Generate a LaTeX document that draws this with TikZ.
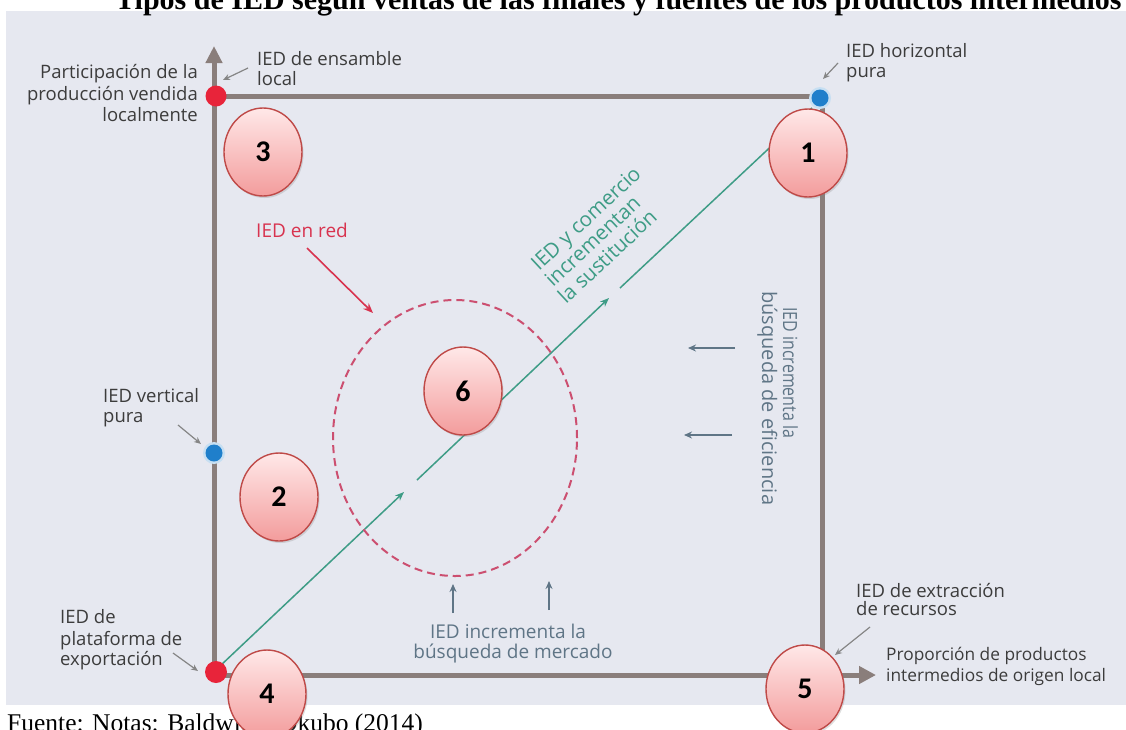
\documentclass[tikz,border=0pt]{standalone}
\usepackage{fontspec}
\setmainfont{Liberation Serif}
\newfontfamily\labfont{Open Sans}
\newfontfamily\labnarrow[FakeStretch=0.82]{Open Sans}
\newfontfamily\numfont{Carlito}
\usetikzlibrary{arrows.meta,shadows,shapes.geometric}
\definecolor{panel}{HTML}{E6E8F0}
\definecolor{axisc}{HTML}{8A7E7B}
\definecolor{labc}{HTML}{3C3C3C}
\definecolor{pointer}{HTML}{858585}
\definecolor{dotred}{HTML}{E8243A}
\definecolor{dotblue}{HTML}{1F7FCB}
\definecolor{tealc}{HTML}{3E9C86}
\definecolor{redtxt}{HTML}{D8334F}
\definecolor{slate}{HTML}{5F7586}
\definecolor{circA}{HTML}{FFE8E8}
\definecolor{circB}{HTML}{F39C9C}
\definecolor{circdraw}{HTML}{BF4A48}
\definecolor{ellc}{HTML}{CC4F70}
\tikzset{
  lab/.style={font=\labfont\fontsize{18.5}{21}\selectfont, text=labc, inner sep=0pt},
  inlab/.style={font=\labfont\fontsize{19}{22}\selectfont, inner sep=0pt},
  numc/.style={ellipse, minimum width=78pt, minimum height=88pt, inner sep=0pt,
    top color=circA, bottom color=circB, draw=circdraw, line width=1.4pt,
    font=\numfont\bfseries\fontsize{30}{32}\selectfont,
    drop shadow={opacity=0.25, shadow xshift=1.5pt, shadow yshift=-2pt}},
  axisline/.style={draw=axisc, line width=5pt},
  pointarrow/.style={draw=pointer, line width=1.2pt, -{Stealth[length=7pt,width=6pt]}},
  slatearrow/.style={draw=slate, line width=1.3pt, -{Stealth[length=8pt,width=7pt]}},
  greenline/.style={draw=tealc, line width=1.5pt},
  greenarrow/.style={greenline, -{Stealth[length=9pt,width=7pt]}},
  dot/.style={circle, inner sep=0pt, minimum size=#1},
}
\begin{document}
\begin{tikzpicture}[x=1pt,y=-1pt]
\useasboundingbox (0,0) rectangle (1126,729);
\fill[panel] (6,11) rectangle (1126,705);

% title and footer
\node[anchor=base west, inner sep=0pt, font=\bfseries\fontsize{30}{34}\selectfont] (title) at (115,9)
  {Tipos de IED según ventas de las finales y fuentes de los productos intermedios};
\node[anchor=base west, inner sep=0pt, font=\fontsize{25.5}{30}\selectfont] (foot) at (7,731)
  {Fuente: Notas: Baldwin y Okubo (2014)};

% frame and axes
\coordinate (O) at (214,675);
\coordinate (TL) at (214,96);
\coordinate (TR) at (822,96);
\coordinate (BR) at (822,675);
\coordinate (Ytip) at (214,46);
\coordinate (Xtip) at (876,675);
\draw[axisline] (TL) -- (TR) -- (BR);
\draw[axisline, -{Triangle[length=17pt,width=16pt]}] (O) -- (Ytip);
\draw[axisline, -{Triangle[length=17pt,width=17pt]}] (O) -- (Xtip);

% green diagonal
\coordinate (gA) at (220,666);
\coordinate (g1) at (404,492);
\coordinate (g2) at (417,480);
\coordinate (g3) at (609,298);
\coordinate (g4) at (620,288);
\coordinate (gB) at (812,108);
\draw[greenarrow] (gA) -- (g1);
\draw[greenarrow] (g2) -- (g3);
\draw[greenline] (g4) -- (gB);
\begin{scope}[every node/.style={font=\labfont\fontsize{20.5}{22}\selectfont, inner sep=0pt, text=tealc, anchor=base west, rotate=43}]
\node (sub1) at (539,272) {IED y comercio};
\node (sub2) at (553,288) {incrementan};
\node (sub3) at (566,305) {la sustitución};
\end{scope}

% network ellipse
\node[ellipse, minimum width=244pt, minimum height=276pt, draw=ellc, line width=2pt,
      dash pattern=on 8pt off 5pt] (red) at (455,438) {};
\node[inlab, text=redtxt, anchor=base] (redlab) at (302,237) {IED en red};
\coordinate (redA) at (307,248);
\coordinate (redB) at (373,313);
\draw[draw=redtxt, line width=1.6pt, -{Stealth[length=10pt,width=8pt]}] (redA) -- (redB);

% market seeking
\node[inlab, text=slate, anchor=base] (mk1) at (508,638) {IED incrementa la};
\node[inlab, text=slate, anchor=base] (mk2) at (513,658) {búsqueda de mercado};
\coordinate (mA1) at (453,613); \coordinate (mB1) at (453,584);
\coordinate (mA2) at (549,610); \coordinate (mB2) at (549,581);
\draw[slatearrow] (mA1) -- (mB1);
\draw[slatearrow] (mA2) -- (mB2);

% efficiency seeking
\node[inner sep=0pt, text=slate, font=\labnarrow\fontsize{19.5}{22}\selectfont, anchor=base west, rotate=-90] (ef1) at (783,307) {IED incrementa la};
\node[inner sep=0pt, text=slate, font=\labfont\fontsize{20}{22}\selectfont, anchor=base west, rotate=-90] (ef2) at (762,291) {búsqueda de eficiencia};
\coordinate (eA1) at (735,348); \coordinate (eB1) at (688,348);
\coordinate (eA2) at (732,435); \coordinate (eB2) at (684,435);
\draw[slatearrow] (eA1) -- (eB1);
\draw[slatearrow] (eA2) -- (eB2);

% dots
\node[dot=21pt, fill=dotred] (d3) at (216,96) {};
\node[dot=22pt, fill=dotblue!25] (d1h) at (820,98) {};
\node[dot=17pt, fill=dotblue] (d1) at (820,98) {};
\node[dot=22pt, fill=dotblue!25] (d2h) at (214,453) {};
\node[dot=17pt, fill=dotblue] (d2) at (214,453) {};
\node[dot=22pt, fill=dotred] (d4) at (216,672) {};

% labels with pointers
\node[lab, anchor=base west] (ens1) at (257,65) {IED de ensamble};
\node[lab, anchor=base west] (ens2) at (257,85) {local};
\coordinate (ensA) at (248,68); \coordinate (ensB) at (223,80);
\draw[pointarrow] (ensA) -- (ensB);

\node[lab, anchor=base east] (yax1) at (198,78) {Participación de la};
\node[lab, anchor=base east] (yax2) at (198,100) {producción vendida};
\node[lab, anchor=base east] (yax3) at (198,121) {localmente};

\node[lab, anchor=base west] (hor1) at (846,57) {IED horizontal};
\node[lab, anchor=base west] (hor2) at (846,77) {pura};
\coordinate (horA) at (838,63); \coordinate (horB) at (823,79);
\draw[pointarrow] (horA) -- (horB);

\node[lab, anchor=base west] (ver1) at (103,402) {IED vertical};
\node[lab, anchor=base west] (ver2) at (103,422) {pura};
\coordinate (verA) at (178,425); \coordinate (verB) at (201,444);
\draw[pointarrow] (verA) -- (verB);

\node[lab, anchor=base west] (exp1) at (60,623) {IED de};
\node[lab, anchor=base west] (exp2) at (60,645) {plataforma de};
\node[lab, anchor=base west] (exp3) at (60,665) {exportación};
\coordinate (expA) at (173,653); \coordinate (expB) at (198,671);
\draw[pointarrow] (expA) -- (expB);

\node[lab, anchor=base west] (ext1) at (856,597) {IED de extracción};
\node[lab, anchor=base west] (ext2) at (856,615) {de recursos};
\coordinate (extA) at (870,627); \coordinate (extB) at (835,655);
\draw[pointarrow] (extA) -- (extB);

\node[lab, font=\labfont\fontsize{17.3}{21}\selectfont, anchor=base west] (xax1) at (886,660) {Proporción de productos};
\node[lab, font=\labfont\fontsize{17.3}{21}\selectfont, anchor=base west] (xax2) at (886,681) {intermedios de origen local};

% numbered circles
\node[numc] (n1) at (808,153) {1};
\node[numc] (n2) at (279,497) {2};
\node[numc] (n3) at (263,152) {3};
\node[numc] (n4) at (267,694) {4};
\node[numc] (n5) at (805,689) {5};
\node[numc] (n6) at (463,391) {6};
\end{tikzpicture}
\end{document}
